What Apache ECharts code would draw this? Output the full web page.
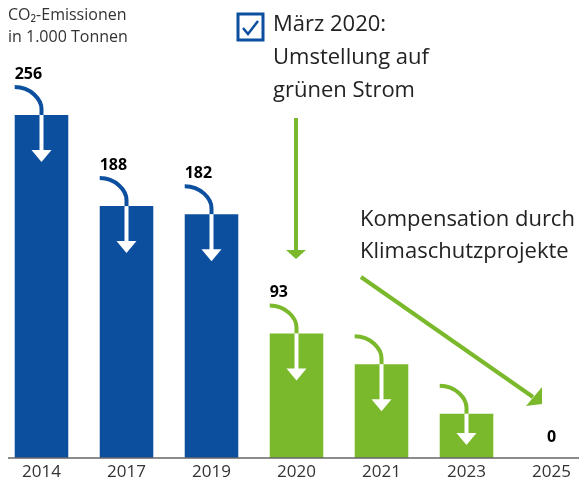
<!DOCTYPE html>
<html>
<head>
<meta charset="utf-8">
<style>
  html, body { margin: 0; padding: 0; background: #fff; }
  #main { width: 579px; height: 484px; }
</style>
<script src="https://cdn.jsdelivr.net/npm/echarts@6/dist/echarts.min.js"></script>
</head>
<body>
<div id="main"></div>
<script>
// Daten
var categories = ['2014', '2017', '2019', '2020', '2021', '2023', '2025'];
var values = [256, 188, 182, 93, 70, 33, 0];
var valueLabels = ['256', '188', '182', '93', '', '', '0'];
var greenPower = [false, false, false, true, true, true, true];

var BLUE = '#0d4f9f';
var GREEN = '#7ab92b';
var FONT = 'Open Sans';

var myChart = echarts.init(document.getElementById('main'));

// Bogen + weisser Pfeil + Wertebeschriftung je Balken
function renderArrow(params, api) {
    var i = params.dataIndex;
    var v = api.value(1);
    var top = api.coord([i, v]);
    var base = api.coord([i, 0]);
    var bw = api.size([1, 0])[0] * 0.63;
    var cx = top[0];
    var left = cx - bw / 2;
    var t = top[1];
    var color = greenPower[i] ? GREEN : BLUE;
    var children = [];
    var label = valueLabels[i];

    if (v > 0) {
        var rx = cx - left, ry = 28;
        children.push({
            type: 'path',
            shape: {
                pathData: 'M' + left + ',' + (t - ry) +
                    ' C' + (left + rx * 0.6) + ',' + (t - ry) + ' ' + cx + ',' + (t - ry * 0.55) + ' ' + cx + ',' + (t - 6) +
                    ' L' + cx + ',' + t
            },
            style: { stroke: color, lineWidth: 4, fill: null }
        });
        var len = Math.min(47, (base[1] - t) - 13);
        var tip = t + len;
        children.push({
            type: 'line',
            shape: { x1: cx, y1: t, x2: cx, y2: tip - 10 },
            style: { stroke: '#fff', lineWidth: 4 }
        });
        children.push({
            type: 'polygon',
            shape: { points: [[cx - 10, tip - 12], [cx + 10, tip - 12], [cx, tip]] },
            style: { fill: '#fff' }
        });
        if (label) {
            children.push({
                type: 'text',
                style: {
                    text: label, x: left, y: t - 41,
                    fill: '#000', font: 'bold 16px ' + FONT,
                    textAlign: 'left', textVerticalAlign: 'middle'
                }
            });
        }
    } else if (label) {
        children.push({
            type: 'text',
            style: {
                text: label, x: cx, y: t - 21,
                fill: '#000', font: 'bold 16px ' + FONT,
                textAlign: 'center', textVerticalAlign: 'middle'
            }
        });
    }
    return { type: 'group', children: children };
}

var option = {
    animation: false,
    grid: { left: -1, width: 595, top: 115, bottom: 26, outerBoundsMode: 'none' },
    xAxis: {
        type: 'category',
        data: categories,
        axisLine: { show: false },
        axisTick: { show: false },
        axisLabel: { color: '#333', fontSize: 17, fontFamily: FONT, margin: 6 }
    },
    yAxis: { type: 'value', min: 0, max: 256, show: false },
    series: [
        {
            type: 'bar',
            barWidth: '63%',
            data: values.map(function (v, i) {
                return { value: v, itemStyle: { color: greenPower[i] ? GREEN : BLUE } };
            }),
            z: 2
        },
        {
            type: 'custom',
            renderItem: renderArrow,
            data: values.map(function (v, i) { return [i, v]; }),
            encode: { x: 0, y: 1 },
            clip: false,
            z: 3
        }
    ],
    graphic: [
        // x-Achse
        { type: 'line', shape: { x1: 8, y1: 458, x2: 579, y2: 458 }, style: { stroke: '#666', lineWidth: 1.5 }, z: 10 },
        // Achsentitel
        { type: 'text', left: 8, top: 4, style: { text: 'CO₂-Emissionen\nin 1.000 Tonnen', fill: '#333', font: '16px ' + FONT, lineHeight: 22 } },
        // Checkbox
        { type: 'rect', shape: { x: 238, y: 14, width: 25, height: 26 }, style: { stroke: BLUE, lineWidth: 3, fill: '#fff' } },
        { type: 'polyline', shape: { points: [[243, 28], [248, 34], [258, 21]] }, style: { stroke: BLUE, lineWidth: 2.5, fill: null } },
        { type: 'text', left: 273, top: 8, style: { text: 'März 2020:\nUmstellung auf\ngrünen Strom', fill: '#222', font: '22px ' + FONT, lineHeight: 33 } },
        // gruener Pfeil nach unten
        { type: 'line', shape: { x1: 296, y1: 118, x2: 296, y2: 251 }, style: { stroke: GREEN, lineWidth: 4 } },
        { type: 'polygon', shape: { points: [[286, 250], [306, 250], [296, 259]] }, style: { fill: GREEN } },
        // Kompensation
        { type: 'text', left: 360, top: 204, style: { text: 'Kompensation durch\nKlimaschutzprojekte', fill: '#222', font: '22px ' + FONT, lineHeight: 32 } },
        { type: 'line', shape: { x1: 361, y1: 277, x2: 533, y2: 397 }, style: { stroke: GREEN, lineWidth: 4 } },
        { type: 'polygon', shape: { points: [[542, 387], [542, 404], [526, 406]] }, style: { fill: GREEN } }
    ]
};
myChart.setOption(option);
</script>
</body>
</html>
